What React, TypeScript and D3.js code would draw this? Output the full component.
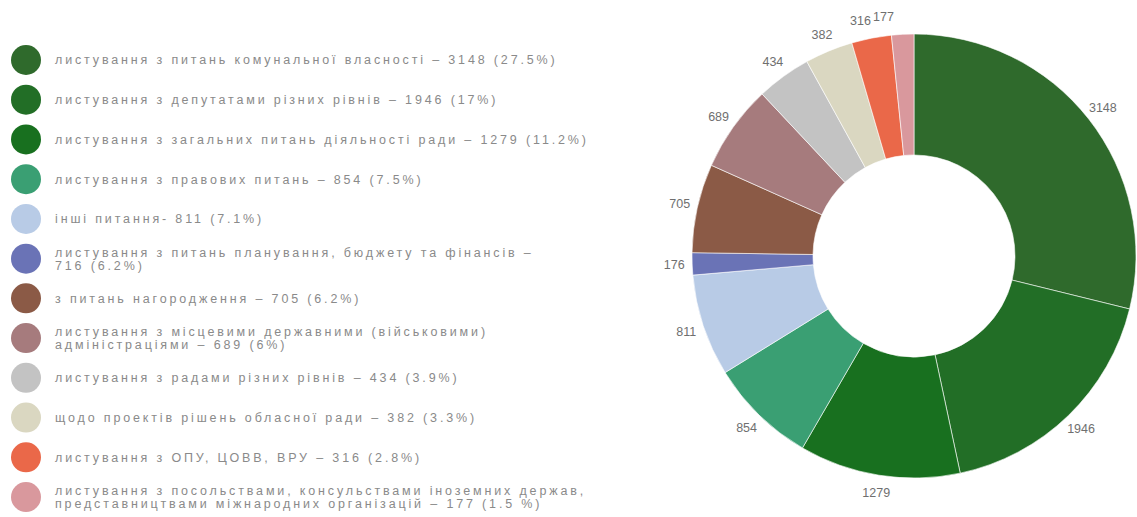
import React, { useEffect, useRef } from "react";
import * as d3 from "d3";

const chartValues = [3148, 1946, 1279, 854, 811, 176, 705, 689, 434, 382, 316, 177];
const sliceColors = [
  "#2f6a2c", "#226e26", "#18701f", "#3a9f73", "#b8cbe6", "#6a73b6",
  "#8b5a46", "#a67b7d", "#c3c3c3", "#dad7c1", "#ea6849", "#d9989d",
];
const legendLines: string[][] = [
  ["листування з питань комунальної власності – 3148 (27.5%)"],
  ["листування з депутатами різних рівнів – 1946 (17%)"],
  ["листування з загальних питань діяльності ради – 1279 (11.2%)"],
  ["листування з правових питань – 854 (7.5%)"],
  ["інші питання- 811 (7.1%)"],
  ["листування з питань планування, бюджету та фінансів –", "716 (6.2%)"],
  ["з питань нагородження – 705 (6.2%)"],
  ["листування з місцевими державними (військовими)", "адміністраціями – 689 (6%)"],
  ["листування з радами різних рівнів – 434 (3.9%)"],
  ["щодо проектів рішень обласної ради – 382 (3.3%)"],
  ["листування з ОПУ, ЦОВВ, ВРУ – 316 (2.8%)"],
  ["листування з посольствами, консульствами іноземних держав,", "представництвами міжнародних організацій – 177 (1.5 %)"],
];

const W = 1137;
const H = 517;

export default function App() {
  const ref = useRef<SVGSVGElement>(null);
  useEffect(() => {
    const svg = d3.select(ref.current);
    svg.selectAll("*").remove();

    // Legend
    const ly = d3.scaleLinear().domain([0, chartValues.length - 1]).range([60, 497]);
    const lg = svg.append("g");
    legendLines.forEach((lines, i) => {
      const y = ly(i);
      lg.append("circle").attr("cx", 26).attr("cy", y).attr("r", 15).attr("fill", sliceColors[i]);
      const n = lines.length;
      lines.forEach((t, j) => {
        lg.append("text")
          .attr("x", 55)
          .attr("y", y + (j - (n - 1) / 2) * 13)
          .attr("dy", "0.35em")
          .attr("font-family", "Arial, Liberation Sans, sans-serif")
          .attr("font-size", 12.5)
          .attr("letter-spacing", 2.85)
          .attr("fill", "#8a8a8a")
          .text(t);
      });
    });

    // Donut
    const cx = 914;
    const cy = 256;
    const outer = 222;
    const inner = 101;
    const pie = d3.pie<number>().sort(null).value((d) => d);
    const arcs = pie(chartValues);
    const arc = d3.arc<d3.PieArcDatum<number>>().innerRadius(inner).outerRadius(outer);
    const g = svg.append("g").attr("transform", `translate(${cx},${cy})`);
    g.selectAll("path")
      .data(arcs)
      .join("path")
      .attr("d", arc as any)
      .attr("fill", (_d, i) => sliceColors[i])
      .attr("stroke", "#ffffff")
      .attr("stroke-width", 0.6);

    // Labels
    const labelR = 240;
    const pos = arcs.map((a) => {
      const m = (a.startAngle + a.endAngle) / 2;
      const t = String(a.data);
      return { x: Math.sin(m) * labelR, y: -Math.cos(m) * labelR, text: t, w: t.length * 7 };
    });
    // Keep left-half labels left of the start line, and avoid overlaps near the top
    for (let i = pos.length - 1; i >= 0; i--) {
      const p = pos[i];
      if (p.x < 0 && p.y < 0) {
        let maxX = -p.w / 2 - 20;
        if (i < pos.length - 1) {
          const q = pos[i + 1];
          if (Math.abs(q.y - p.y) < 14) maxX = Math.min(maxX, q.x - q.w / 2 - p.w / 2 - 2);
        }
        if (p.x > maxX) p.x = maxX;
      }
    }
    g.selectAll("text.lbl")
      .data(pos)
      .join("text")
      .attr("class", "lbl")
      .attr("x", (d) => d.x)
      .attr("y", (d) => d.y)
      .attr("dy", "0.35em")
      .attr("text-anchor", "middle")
      .attr("font-family", "Arial, Liberation Sans, sans-serif")
      .attr("font-size", 12.5)
      .attr("fill", "#6f6f6f")
      .text((d) => d.text);
  }, []);

  return (
    <svg
      ref={ref}
      width={W}
      height={H}
      style={{ position: "absolute", left: 0, top: 0, background: "#ffffff", display: "block" }}
    />
  );
}
